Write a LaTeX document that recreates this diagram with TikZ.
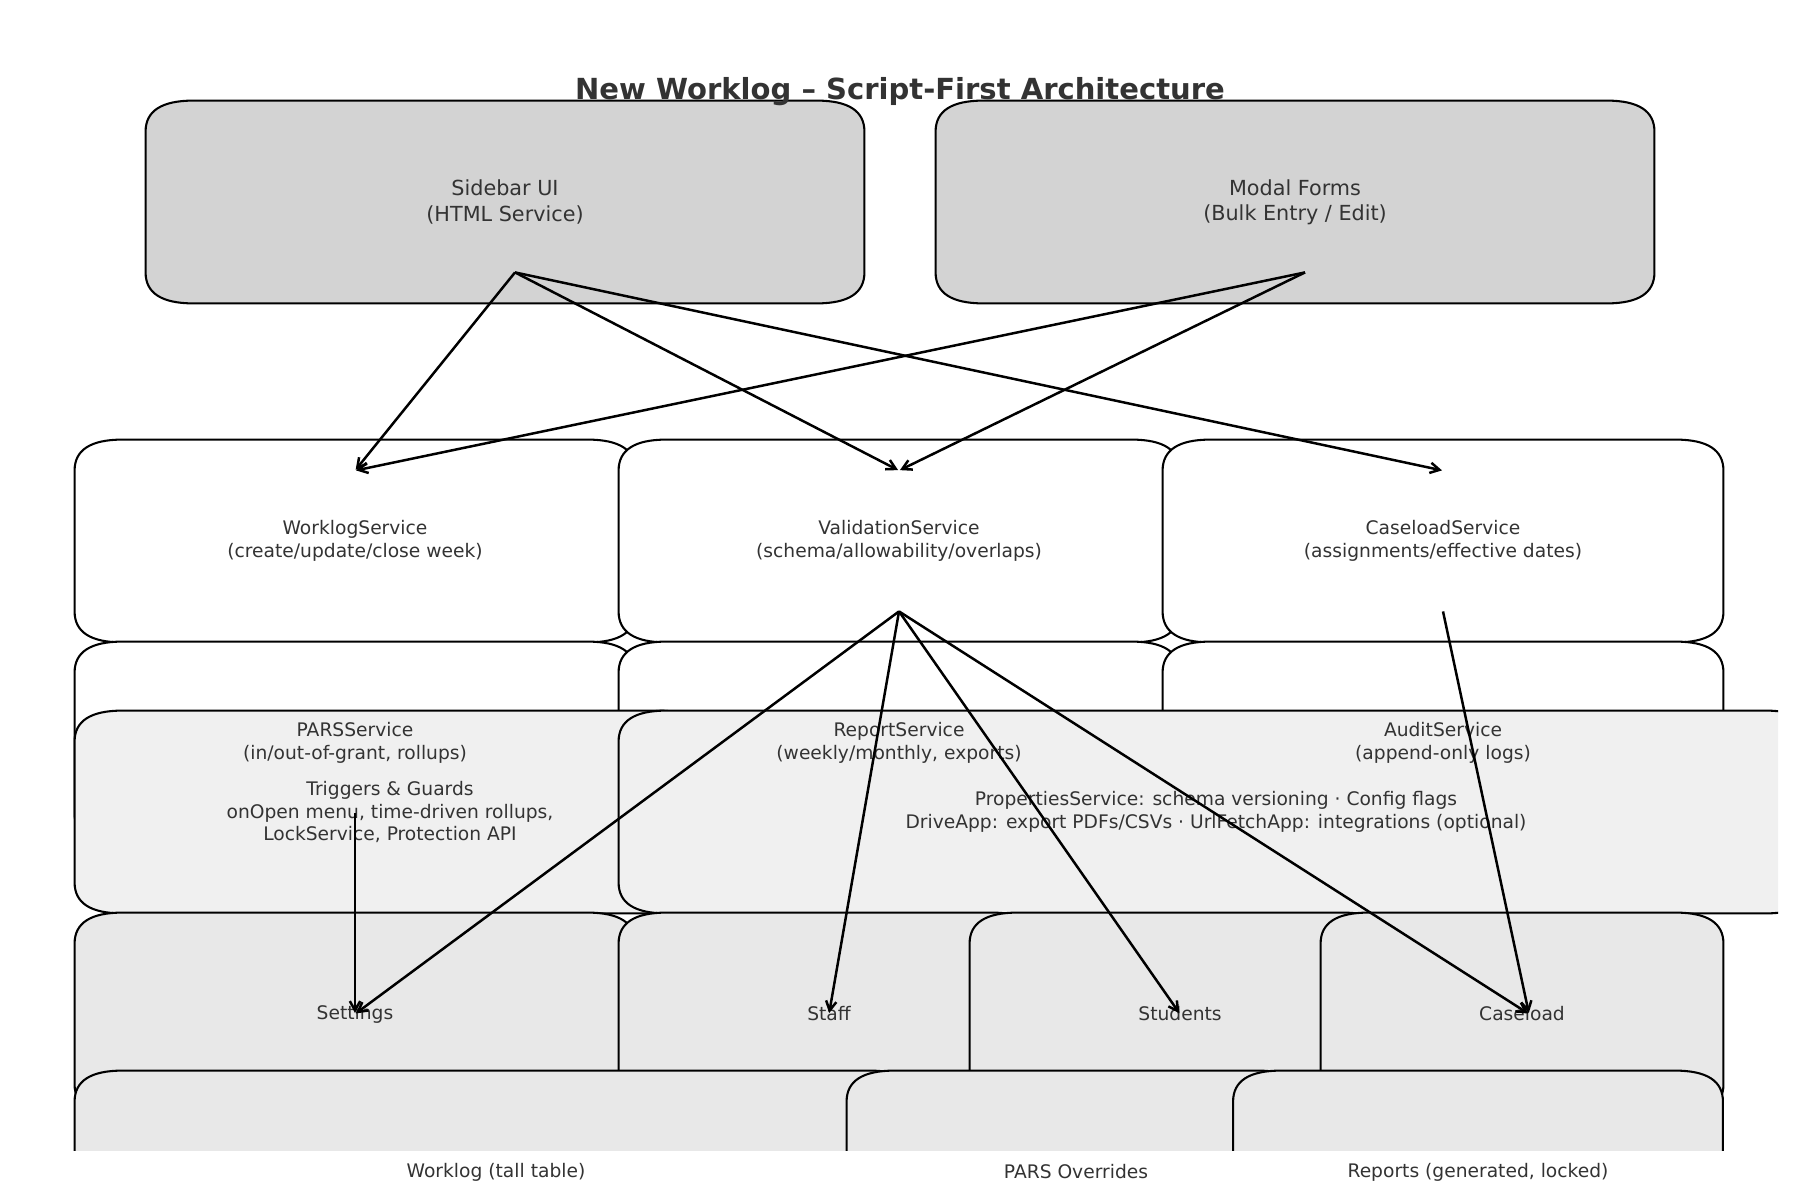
\documentclass[tikz,border=0pt]{standalone}
\usepackage{fontspec}
\setmainfont{DejaVu Sans}
\usepackage{tikz}
\usetikzlibrary{arrows.meta,calc,backgrounds}
\definecolor{txtgray}{HTML}{333333}
\definecolor{uigray}{HTML}{D3D3D3}
\definecolor{layergray}{HTML}{F0F0F0}
\definecolor{datagray}{HTML}{E8E8E8}
\newdimen\pxu \pxu=0.016933cm
\newdimen\bpx \bpx=48\pxu
\newdimen\bpy \bpy=31\pxu
\tikzset{
  box/.style={inner sep=0pt, align=center, text=txtgray, minimum height=140*\pxu},
  uibox/.style={box, font=\fontsize{10}{12.2}\selectfont, minimum width=622*\pxu},
  svcbox/.style={box, font=\fontsize{9}{11}\selectfont},
  boxline/.style={draw=black, line width=1pt},
  arr/.style={-{Straight Barb[length=4.5pt,width=5pt]}, line width=1.2pt, shorten >=0.5pt}
}
% outline of a box, padded round the node with rounded corners
\newcommand{\padbox}[2]{%
  \path[boxline, fill=#2] let \p1=(#1.north west), \p2=(#1.south east) in
    ({\x1},{\y1+\bpy}) -- ({\x2},{\y1+\bpy})
    .. controls ({\x2+0.667*\bpx},{\y1+\bpy}) and ({\x2+\bpx},{\y1+0.667*\bpy}) .. ({\x2+\bpx},{\y1})
    -- ({\x2+\bpx},{\y2})
    .. controls ({\x2+\bpx},{\y2-0.667*\bpy}) and ({\x2+0.667*\bpx},{\y2-\bpy}) .. ({\x2},{\y2-\bpy})
    -- ({\x1},{\y2-\bpy})
    .. controls ({\x1-0.667*\bpx},{\y2-\bpy}) and ({\x1-\bpx},{\y2-0.667*\bpy}) .. ({\x1-\bpx},{\y2})
    -- ({\x1-\bpx},{\y1})
    .. controls ({\x1-\bpx},{\y1+0.667*\bpy}) and ({\x1-0.667*\bpx},{\y1+\bpy}) .. cycle;}

\begin{document}
\begin{tikzpicture}[x=0.016933cm, y=-0.016933cm]
  \useasboundingbox (0,0) rectangle (1800,1200);
  \node[anchor=base, text=txtgray, font=\fontsize{14}{16.8}\selectfont\bfseries] (title) at (900,100)
    {New Worklog – Script-First Architecture};
  % UI layer
  \node[uibox] (sidebar) at (505,202) {Sidebar UI\\(HTML Service)};
  \node[uibox] (modal) at (1295,202) {Modal Forms\\(Bulk Entry / Edit)};
  % services
  \node[svcbox, minimum width=464*\pxu] (wlsvc) at (355,541) {WorklogService\\(create/update/close week)};
  \node[svcbox, minimum width=464*\pxu] (valsvc) at (899,541) {ValidationService\\(schema/allowability/overlaps)};
  \node[svcbox, minimum width=464*\pxu] (casesvc) at (1443,541) {CaseloadService\\(assignments/effective dates)};
  \node[svcbox, minimum width=464*\pxu] (parssvc) at (355,743) {PARSService\\(in/out-of-grant, rollups)};
  \node[svcbox, minimum width=464*\pxu] (reportsvc) at (899,743) {ReportService\\(weekly/monthly, exports)};
  \node[svcbox, minimum width=464*\pxu] (auditsvc) at (1443,743) {AuditService\\(append-only logs)};
  % platform
  \node[svcbox, minimum width=534*\pxu] (triggers) at (390,812)
    {Triggers \& Guards\\onOpen menu, time-driven rollups,\\LockService, Protection API};
  \node[svcbox, minimum width=1098*\pxu] (props) at (1216,812)
    {PropertiesService: schema versioning · Config flags\\DriveApp: export PDFs/CSVs · UrlFetchApp: integrations (optional)};
  % sheets
  \node[svcbox, minimum width=464*\pxu] (settings) at (355,1014) {Settings};
  \node[svcbox, minimum width=324*\pxu] (staff) at (829,1014) {Staff};
  \node[svcbox, minimum width=324*\pxu] (students) at (1180,1014) {Students};
  \node[svcbox, minimum width=306*\pxu] (caseload) at (1522,1014) {Caseload};
  \node[svcbox, minimum width=746*\pxu] (worklog) at (496,1172) {Worklog (tall table)};
  \node[svcbox, minimum width=362*\pxu] (parsov) at (1076,1172) {PARS Overrides};
  \node[svcbox, minimum width=393*\pxu] (reports) at (1478,1172) {Reports (generated, locked)};

  \begin{pgfonlayer}{background}
    \begin{scope}
      \clip (0,0) rectangle (1778,1150);
      \padbox{sidebar}{uigray}
      \padbox{modal}{uigray}
      \padbox{wlsvc}{white}
      \padbox{valsvc}{white}
      \padbox{casesvc}{white}
      \padbox{parssvc}{white}
      \padbox{reportsvc}{white}
      \padbox{auditsvc}{white}
      \padbox{triggers}{layergray}
      \padbox{props}{layergray}
      \padbox{settings}{datagray}
      \padbox{staff}{datagray}
      \padbox{students}{datagray}
      \padbox{caseload}{datagray}
      \padbox{worklog}{datagray}
      \padbox{parsov}{datagray}
      \padbox{reports}{datagray}
    \end{scope}
  \end{pgfonlayer}

  % calls
  \coordinate (sb-out) at ($(sidebar.south)+(10,0)$);
  \coordinate (md-out) at ($(modal.south)+(10,0)$);
  \coordinate (cl-in) at ($(caseload.center)+(7,0)$);
  \draw[arr] (sb-out) -- (wlsvc.north);
  \draw[arr] (sb-out) -- (valsvc.north);
  \draw[arr] (sb-out) -- (casesvc.north);
  \draw[arr] (md-out) -- (wlsvc.north);
  \draw[arr] (md-out) -- (valsvc.north);
  \draw[arr] (valsvc.south) -- (settings.center);
  \draw[arr] (valsvc.south) -- (staff.center);
  \draw[arr] (valsvc.south) -- (students.center);
  \draw[arr] (valsvc.south) -- (cl-in);
  \draw[arr] (casesvc.south) -- (cl-in);
  \draw[arr] (parssvc.south) -- (settings.center);
\end{tikzpicture}
\end{document}
